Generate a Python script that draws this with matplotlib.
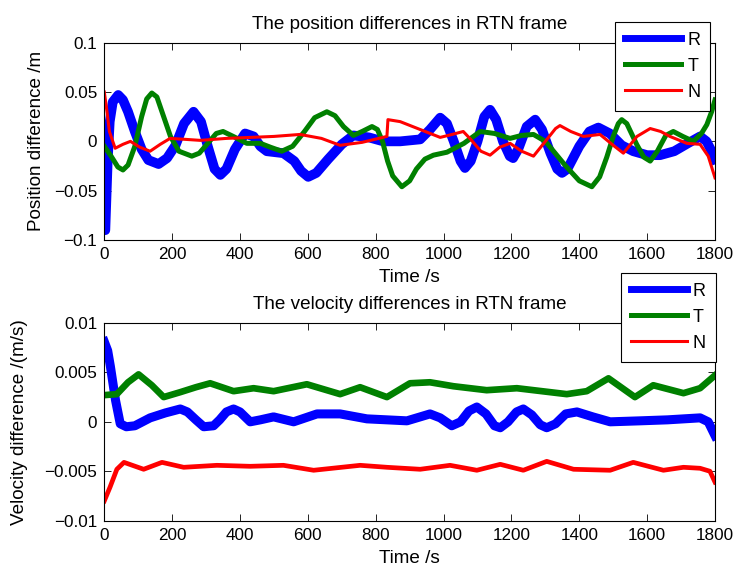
import matplotlib
matplotlib.use('Agg')
import matplotlib.pyplot as plt
from matplotlib.ticker import FuncFormatter

plt.rcParams['font.family'] = ['Liberation Sans', 'DejaVu Sans']

# ── position differences (m) ────────────────────────────────────────────────
pos_R_t = [0, 3, 6, 10, 16, 25, 41, 55, 70, 90, 110, 130, 160, 185, 210, 235,
           263, 285, 305, 325, 342, 360, 385, 415, 440, 460, 479, 528, 560,
           580, 601, 625, 660, 700, 734, 780, 822, 872, 931, 960, 990, 1010,
           1030, 1050, 1063, 1080, 1100, 1120, 1137, 1155, 1175, 1195, 1205,
           1220, 1245, 1270, 1290, 1315, 1335, 1349, 1365, 1400, 1430, 1456,
           1490, 1525, 1559, 1600, 1638, 1680, 1720, 1756, 1775, 1790, 1800]
pos_R = [-0.09, -0.09, -0.06, -0.02, 0.02, 0.04, 0.047, 0.042, 0.03, 0.01,
         -0.008, -0.019, -0.023, -0.017, -0.004, 0.018, 0.03, 0.02, -0.005,
         -0.028, -0.034, -0.028, -0.008, 0.008, 0.005, -0.005, -0.01, -0.012,
         -0.02, -0.03, -0.036, -0.032, -0.018, -0.003, 0.006, 0.004, 0.0, 0.0,
         0.002, 0.012, 0.024, 0.018, 0.0, -0.02, -0.027, -0.02, 0.0, 0.025,
         0.032, 0.022, 0.0, -0.015, -0.017, -0.008, 0.015, 0.022, 0.012,
         -0.012, -0.028, -0.032, -0.028, -0.005, 0.01, 0.014, 0.008, -0.004,
         -0.01, -0.014, -0.014, -0.01, -0.002, 0.005, 0.0, -0.01, -0.018]

pos_T_t = [0, 20, 40, 55, 70, 90, 110, 125, 140, 155, 175, 195, 220, 258, 280,
           310, 330, 350, 380, 420, 460, 490, 523, 555, 590, 620, 656, 680,
           705, 734, 760, 789, 805, 820, 835, 850, 877, 900, 920, 945, 970,
           1010, 1060, 1108, 1150, 1196, 1230, 1265, 1300, 1324, 1360, 1400,
           1437, 1460, 1481, 1500, 1515, 1525, 1540, 1569, 1590, 1609, 1630,
           1655, 1677, 1705, 1736, 1760, 1776, 1790, 1800]
pos_T = [-0.005, -0.015, -0.026, -0.029, -0.024, -0.005, 0.025, 0.043, 0.049,
         0.045, 0.025, 0.005, -0.01, -0.015, -0.012, 0.0, 0.008, 0.01, 0.005,
         -0.002, -0.002, -0.006, -0.01, -0.005, 0.01, 0.024, 0.03, 0.026,
         0.015, 0.006, 0.01, 0.015, 0.012, 0.0, -0.02, -0.035, -0.046, -0.04,
         -0.028, -0.018, -0.014, -0.011, -0.002, 0.01, 0.008, 0.003, 0.006,
         0.007, 0.0, -0.01, -0.025, -0.04, -0.046, -0.036, -0.016, 0.005,
         0.018, 0.022, 0.018, -0.003, -0.016, -0.02, -0.01, 0.006, 0.01,
         0.005, 0.0, 0.008, 0.017, 0.03, 0.042]

pos_N_t = [0, 8, 15, 32, 55, 77, 105, 135, 165, 194, 240, 283, 360, 431, 500,
           577, 640, 695, 760, 833, 836, 872, 931, 990, 1025, 1058, 1080, 1110,
           1137, 1165, 1196, 1230, 1265, 1300, 1330, 1343, 1375, 1412, 1461,
           1500, 1530, 1570, 1609, 1640, 1667, 1717, 1756, 1780, 1800]
pos_N = [0.05, 0.03, 0.01, -0.007, -0.003, 0.0, -0.006, -0.01, -0.003, 0.003,
         0.002, 0.001, 0.003, 0.004, 0.005, 0.007, 0.003, -0.004, -0.001,
         0.005, 0.022, 0.02, 0.012, 0.004, 0.007, 0.01, 0.002, -0.01, -0.014,
         -0.006, -0.002, -0.01, -0.015, 0.0, 0.013, 0.016, 0.01, 0.005, 0.007,
         -0.004, -0.012, 0.005, 0.013, 0.01, 0.005, -0.002, -0.003, -0.015,
         -0.037]

# ── velocity differences (m/s) ──────────────────────────────────────────────
vel_R_t = [0, 10, 18, 33, 47, 65, 90, 135, 180, 224, 245, 270, 293, 322, 340,
           360, 381, 400, 430, 460, 499, 558, 627, 695, 774, 892, 931, 960,
           990, 1024, 1050, 1075, 1098, 1125, 1150, 1167, 1190, 1215, 1235,
           1260, 1285, 1304, 1330, 1360, 1393, 1440, 1491, 1579, 1660, 1756,
           1780, 1800]
vel_R = [0.0081, 0.0072, 0.0056, 0.0022, -0.0002, -0.0005, -0.0004, 0.0004,
         0.0009, 0.0013, 0.001, 0.0002, -0.0005, -0.0004, 0.0002, 0.001,
         0.0013, 0.001, 0.0, 0.0002, 0.0005, 0.0, 0.0008, 0.0008, 0.0003,
         0.0001, 0.0005, 0.0008, 0.0004, -0.0004, 0.0, 0.0011, 0.0015, 0.0008,
         -0.0004, -0.0006, 0.0, 0.001, 0.0013, 0.0007, -0.0003, -0.0006,
         -0.0002, 0.0008, 0.001, 0.0005, 0.0, 0.0001, 0.0002, 0.0004, 0.0,
         -0.0014]

vel_T_t = [0, 37, 70, 101, 140, 175, 224, 270, 312, 381, 440, 499, 597, 695,
           754, 833, 901, 960, 1029, 1127, 1216, 1363, 1422, 1486, 1564, 1618,
           1707, 1756, 1800]
vel_T = [0.0027, 0.0028, 0.0040, 0.0048, 0.0037, 0.0025, 0.003, 0.0035,
         0.0039, 0.0031, 0.0034, 0.0031, 0.0038, 0.0028, 0.0035, 0.0025,
         0.0039, 0.004, 0.0036, 0.0032, 0.0034, 0.0028, 0.0031, 0.0044,
         0.0025, 0.0037, 0.0029, 0.0034, 0.0047]

vel_N_t = [0, 17, 37, 58, 116, 170, 234, 332, 430, 528, 617, 754, 833, 931,
           1019, 1098, 1167, 1235, 1304, 1383, 1491, 1559, 1648, 1707, 1756,
           1785, 1800]
vel_N = [-0.008, -0.0066, -0.0048, -0.0041, -0.0048, -0.0041, -0.0046,
         -0.0044, -0.0045, -0.0044, -0.0049, -0.0044, -0.0046, -0.0048,
         -0.0044, -0.0049, -0.0043, -0.0049, -0.004, -0.0048, -0.0049,
         -0.0041, -0.0049, -0.0046, -0.0047, -0.005, -0.0061]

BLUE = '#0000ff'
GREEN = '#008000'
RED = '#ff0000'
TICK_FS = 12.3
LABEL_FS = 13.6


def fmt(v, _):
    return ('%g' % round(v, 6)).replace('-', '\u2212')


def style_ax(ax, ylim, yticks):
    ax.set_xlim(0, 1800)
    ax.set_ylim(*ylim)
    ax.set_xticks(range(0, 1801, 200))
    ax.set_yticks(yticks)
    ax.yaxis.set_major_formatter(FuncFormatter(fmt))
    ax.tick_params(direction='in', length=5, width=0.6, top=True, right=True,
                   labelsize=TICK_FS, pad=5)
    for s in ax.spines.values():
        s.set_linewidth(0.8)
    ax.set_xlabel('Time /s', fontsize=LABEL_FS, labelpad=5)


fig = plt.figure(figsize=(7.35, 5.67), dpi=100)
ax1 = fig.add_axes([0.1419, 0.5767, 0.8309, 0.348])
ax2 = fig.add_axes([0.1419, 0.0817, 0.8309, 0.3487])

ax1.plot(pos_R_t, pos_R, color=BLUE, lw=7, label='R', solid_joinstyle='round')
ax1.plot(pos_T_t, pos_T, color=GREEN, lw=3.6, label='T', solid_joinstyle='round')
ax1.plot(pos_N_t, pos_N, color=RED, lw=2.2, label='N', solid_joinstyle='round')
style_ax(ax1, (-0.1, 0.1), [-0.1, -0.05, 0, 0.05, 0.1])
ax1.set_title('The position differences in RTN frame', fontsize=LABEL_FS, pad=10)
ax1.set_ylabel('Position difference /m', fontsize=LABEL_FS)
ax1.yaxis.set_label_coords(-0.097, 0.5)

ax2.plot(vel_R_t, vel_R, color=BLUE, lw=6.5, label='R', solid_joinstyle='round')
ax2.plot(vel_T_t, vel_T, color=GREEN, lw=4.8, label='T', solid_joinstyle='round')
ax2.plot(vel_N_t, vel_N, color=RED, lw=3.4, label='N', solid_joinstyle='round')
style_ax(ax2, (-0.01, 0.01), [-0.01, -0.005, 0, 0.005, 0.01])
ax2.set_title('The velocity differences in RTN frame', fontsize=LABEL_FS, pad=10)
ax2.set_ylabel('Velocity difference /(m/s)', fontsize=LABEL_FS)
ax2.yaxis.set_label_coords(-0.125, 0.5)

for ax, anchor in [(ax1, (615 / 735, 1 - 21.7 / 567)),
                   (ax2, (620.7 / 735, 1 - 272.7 / 567))]:
    leg = ax.legend(loc='upper left', bbox_to_anchor=anchor,
                    bbox_transform=fig.transFigure, borderaxespad=0,
                    fancybox=False, framealpha=1, edgecolor='black',
                    fontsize=13, handlelength=3.1, handletextpad=0.35,
                    borderpad=0.55, labelspacing=0.5)
    leg.get_frame().set_linewidth(0.8)
    for line, lw in zip(leg.get_lines(), (5, 3.6, 2.2)):
        line.set_linewidth(lw)

fig.savefig('out.png', dpi=100, facecolor='white')
